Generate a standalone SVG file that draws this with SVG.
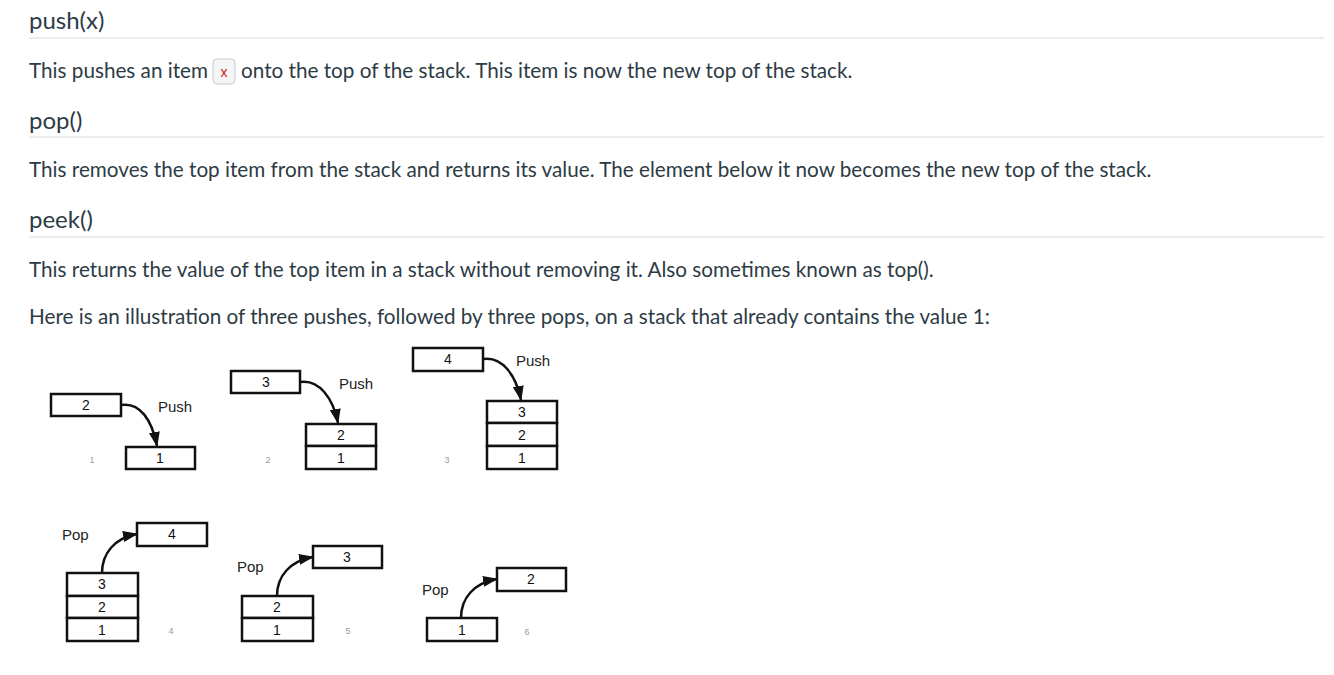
<svg xmlns="http://www.w3.org/2000/svg" width="1334" height="675" viewBox="0 0 1334 675">
<defs>
<style>
.h{font-family:Lato,"Noto Sans",sans-serif;font-size:24px;fill:#2d3b45}
.t{font-family:Lato,"Noto Sans",sans-serif;font-size:20.7px;fill:#2d3b45}
.hr{stroke:#e4e6e8;stroke-width:1.5}
.box{fill:#fff;stroke:#111;stroke-width:2.5}
.n{font-family:"Liberation Sans",Arial,sans-serif;font-size:14px;fill:#111;text-anchor:middle}
.lbl{font-family:"Liberation Sans",Arial,sans-serif;font-size:15px;fill:#222}
.g{font-family:"Liberation Sans",Arial,sans-serif;font-size:9px;fill:#999;text-anchor:middle}
.arr{fill:none;stroke:#111;stroke-width:2.5;marker-end:url(#ah)}
</style>
<marker id="ah" viewBox="0 0 15 11" refX="14" refY="5.5" markerWidth="15" markerHeight="11" markerUnits="userSpaceOnUse" orient="auto">
<path d="M0,0 L15,5.5 L0,11 z" fill="#111"/>
</marker>
</defs>
<rect width="1334" height="675" fill="#fff"/>

<g id="text">
<text class="h" x="29" y="29">push(x)</text>
<line class="hr" x1="29" y1="38" x2="1324" y2="38"/>
<text class="t" x="29" y="78">This pushes an item</text>
<rect x="213" y="59" width="22" height="25" rx="4" fill="#f5f5f5" stroke="#c7cdd1" stroke-width="1"/>
<text x="224" y="77" font-family="'Liberation Sans',Arial,sans-serif" font-size="14" fill="#d0201c" text-anchor="middle">x</text>
<text class="t" x="241" y="78">onto the top of the stack. This item is now the new top of the stack.</text>
<text class="h" x="29" y="129">pop()</text>
<line class="hr" x1="29" y1="137" x2="1324" y2="137"/>
<text class="t" x="29" y="177">This removes the top item from the stack and returns its value. The element below it now becomes the new top of the stack.</text>
<text class="h" x="29" y="228">peek()</text>
<line class="hr" x1="29" y1="237" x2="1324" y2="237"/>
<text class="t" x="29" y="277">This returns the value of the top item in a stack without removing it. Also sometimes known as top().</text>
<text class="t" x="29" y="324">Here is an illustration of three pushes, followed by three pops, on a stack that already contains the value 1:</text>
</g>

<g id="step1">
<rect class="box" x="51" y="394" width="70" height="22"/><text class="n" x="86" y="410">2</text>
<text class="lbl" x="158" y="412">Push</text>
<rect class="box" x="126" y="447" width="69" height="22"/><text class="n" x="160" y="463">1</text>
<text class="g" x="92" y="463">1</text>
</g>
<g id="step2">
<rect class="box" x="231" y="371" width="69" height="22"/><text class="n" x="266" y="387">3</text>
<text class="lbl" x="339" y="389">Push</text>
<rect class="box" x="306" y="424" width="70" height="22"/><text class="n" x="341" y="440">2</text>
<rect class="box" x="306" y="446" width="70" height="23"/><text class="n" x="341" y="463">1</text>
<text class="g" x="268" y="463">2</text>
</g>
<g id="step3">
<rect class="box" x="413" y="348" width="70" height="23"/><text class="n" x="448" y="364">4</text>
<text class="lbl" x="516" y="366">Push</text>
<rect class="box" x="487" y="401" width="70" height="22"/><text class="n" x="522" y="417">3</text>
<rect class="box" x="487" y="423" width="70" height="23"/><text class="n" x="522" y="440">2</text>
<rect class="box" x="487" y="446" width="70" height="23"/><text class="n" x="522" y="463">1</text>
<text class="g" x="447" y="463">3</text>
</g>
<g id="step4">
<text class="lbl" x="62" y="540">Pop</text>
<rect class="box" x="137" y="523" width="70" height="23"/><text class="n" x="172" y="539">4</text>
<rect class="box" x="67" y="573" width="71" height="23"/><text class="n" x="102" y="589">3</text>
<rect class="box" x="67" y="596" width="71" height="22"/><text class="n" x="102" y="612">2</text>
<rect class="box" x="67" y="618" width="71" height="23"/><text class="n" x="102" y="635">1</text>
<text class="g" x="171" y="634">4</text>
</g>
<g id="step5">
<text class="lbl" x="237" y="572">Pop</text>
<rect class="box" x="313" y="546" width="69" height="22"/><text class="n" x="347" y="562">3</text>
<rect class="box" x="242" y="596" width="71" height="22"/><text class="n" x="277" y="612">2</text>
<rect class="box" x="242" y="618" width="71" height="23"/><text class="n" x="277" y="635">1</text>
<text class="g" x="348" y="634">5</text>
</g>
<g id="step6">
<text class="lbl" x="422" y="595">Pop</text>
<rect class="box" x="497" y="568" width="69" height="23"/><text class="n" x="531" y="584">2</text>
<rect class="box" x="427" y="618" width="70" height="23"/><text class="n" x="462" y="635">1</text>
<text class="g" x="527" y="635">6</text>
</g>

<g id="connectors">
<path class="arr" d="M121,405 C140,402 152,420 157,446"/>
<path class="arr" d="M300,382 C319,379 333,398 338,423"/>
<path class="arr" d="M483,359 C502,356 516,375 521,400"/>
<path class="arr" d="M102,573 C102,553 115,538 137,534"/>
<path class="arr" d="M277,596 C277,576 290,561 313,557"/>
<path class="arr" d="M461,618 C461,598 474,583 497,579"/>
</g>
</svg>
